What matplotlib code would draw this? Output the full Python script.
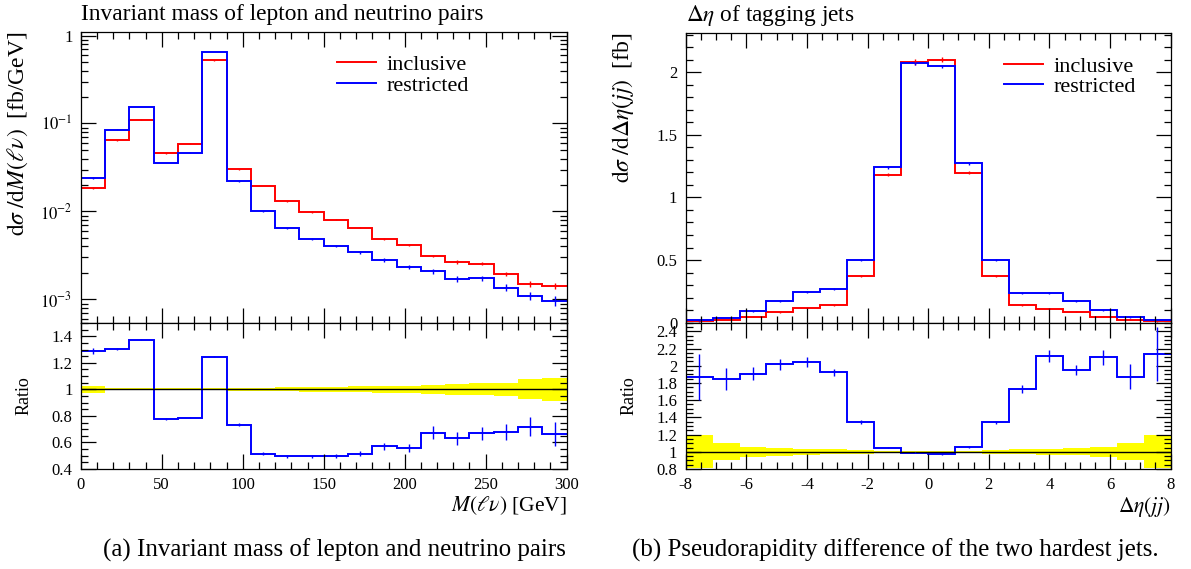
import matplotlib
matplotlib.use("Agg")
import matplotlib.pyplot as plt
from matplotlib.ticker import MultipleLocator, LogLocator, FuncFormatter, NullFormatter
import numpy as np

plt.rcParams['font.family'] = ['Liberation Serif', 'DejaVu Serif']
plt.rcParams['mathtext.fontset'] = 'stix'

# ---- left: invariant mass of lepton + neutrino, 20 bins of 15 GeV
mass_edges = np.linspace(0, 300, 21)
mass_incl = [0.0183, 0.0644, 0.111, 0.0457, 0.059, 0.522, 0.0303, 0.0195, 0.0130, 0.00982,
             0.0081, 0.00656, 0.00491, 0.00419, 0.00311, 0.00267, 0.00256, 0.00197, 0.00150, 0.00142]
mass_restr = [0.0239, 0.0853, 0.153, 0.0355, 0.0466, 0.650, 0.0221, 0.0100, 0.00644, 0.00482,
              0.00408, 0.00342, 0.00280, 0.00235, 0.00209, 0.00170, 0.00174, 0.00136, 0.00110, 0.00097]
mass_ratio = [1.29, 1.305, 1.375, 0.775, 0.788, 1.245, 0.735, 0.515, 0.495, 0.495,
              0.50, 0.515, 0.57, 0.562, 0.675, 0.63, 0.67, 0.68, 0.72, 0.665]
mass_ratio_err = [0.025, 0.01, 0.005, 0.006, 0.006, 0.004, 0.008, 0.01, 0.01, 0.012,
                  0.015, 0.018, 0.025, 0.03, 0.05, 0.05, 0.05, 0.06, 0.07, 0.09]
mass_band = [0.025, 0.008, 0.008, 0.008, 0.008, 0.008, 0.01, 0.012, 0.015, 0.018,
             0.02, 0.022, 0.025, 0.027, 0.035, 0.04, 0.045, 0.05, 0.075, 0.085]

# ---- right: delta eta of tagging jets, 18 bins from -8 to 8
deta_edges = np.linspace(-8, 8, 19)
deta_incl = [0.011, 0.021, 0.048, 0.085, 0.12, 0.141, 0.372, 1.18, 2.08,
             2.10, 1.197, 0.372, 0.141, 0.112, 0.088, 0.048, 0.024, 0.011]
deta_restr = [0.020, 0.037, 0.093, 0.173, 0.243, 0.268, 0.504, 1.242, 2.069,
              2.045, 1.271, 0.504, 0.238, 0.234, 0.173, 0.101, 0.043, 0.024]
deta_ratio = [1.867, 1.844, 1.91, 2.017, 2.04, 1.925, 1.347, 1.05, 0.99,
              0.97, 1.058, 1.343, 1.728, 2.11, 1.948, 2.098, 1.875, 2.137]
deta_ratio_err = [0.27, 0.13, 0.08, 0.065, 0.06, 0.04, 0.02, 0.01, 0.005,
                  0.005, 0.01, 0.02, 0.05, 0.07, 0.06, 0.09, 0.14, 0.31]
deta_band = [0.19, 0.1, 0.06, 0.045, 0.035, 0.03, 0.02, 0.01, 0.01,
             0.01, 0.01, 0.02, 0.03, 0.035, 0.04, 0.06, 0.1, 0.19]

RED = '#ff0000'
BLUE = '#0000ff'
LW = 1.4


def style_ticks(ax):
    ax.tick_params(which='both', direction='in', top=True, right=True, labelsize=12, pad=6)
    ax.tick_params(which='major', length=10.5, width=0.9)
    ax.tick_params(which='minor', length=5, width=0.9)
    for s in ax.spines.values():
        s.set_linewidth(0.9)


def draw_panel(fig, x0, w, ytop, ymid, ybot, edges, incl, restr, ratio, ratio_err, band):
    axm = fig.add_axes([x0, ymid, w, ytop - ymid])
    axr = fig.add_axes([x0, ybot, w, ymid - ybot], sharex=axm)
    edges = np.asarray(edges)
    centers = 0.5 * (edges[1:] + edges[:-1])
    incl = np.asarray(incl)
    restr = np.asarray(restr)
    ratio = np.asarray(ratio)
    ratio_err = np.asarray(ratio_err)
    band = np.asarray(band)

    axm.stairs(incl, edges, color=RED, lw=LW, baseline=None, label='inclusive')
    axm.stairs(restr, edges, color=BLUE, lw=LW, baseline=None, label='restricted')
    axm.errorbar(centers, incl, yerr=incl * band, fmt='none', ecolor=RED, elinewidth=1)
    axm.errorbar(centers, restr, yerr=restr * ratio_err / ratio, fmt='none', ecolor=BLUE, elinewidth=1)

    axr.stairs(1 + band, edges, baseline=1 - band, fill=True, color='#ffff00', lw=0)
    axr.axhline(1.0, color='black', lw=1.0)
    axr.stairs(ratio, edges, color=BLUE, lw=LW, baseline=None)
    axr.errorbar(centers, ratio, yerr=ratio_err, fmt='none', ecolor=BLUE, elinewidth=1)

    axm.set_xlim(edges[0], edges[-1])
    plt.setp(axm.get_xticklabels(), visible=False)
    style_ticks(axm)
    style_ticks(axr)
    axm.legend(loc='upper right', frameon=False, fontsize=16, handlelength=1.75,
               handletextpad=0.45, labelspacing=0.0, borderaxespad=0.3)
    return axm, axr


fig = plt.figure(figsize=(11.91, 5.69), dpi=100)

# left panel
axm, axr = draw_panel(fig, 0.0678, 0.408, 0.944, 0.4323, 0.1757,
                      mass_edges, mass_incl, mass_restr, mass_ratio, mass_ratio_err, mass_band)
axm.set_yscale('log')
axm.set_ylim(5.4e-4, 1.1)
axm.yaxis.set_major_locator(LogLocator(base=10, numticks=10))
axm.yaxis.set_minor_locator(LogLocator(base=10, subs=np.arange(2, 10), numticks=20))
axm.yaxis.set_minor_formatter(NullFormatter())
axm.yaxis.set_major_formatter(FuncFormatter(
    lambda v, p: '1' if abs(v - 1) < 1e-9 else r'$10^{%d}$' % int(round(np.log10(v)))))
axm.xaxis.set_major_locator(MultipleLocator(50))
axm.xaxis.set_minor_locator(MultipleLocator(10))
axm.legend_.set_bbox_to_anchor((0.83, 0.975))
axr.set_ylim(0.4, 1.5)
axr.yaxis.set_major_locator(MultipleLocator(0.2))
axr.yaxis.set_minor_locator(MultipleLocator(0.05))
axr.yaxis.set_major_formatter(FuncFormatter(lambda v, p: '%g' % round(v, 2)))
axm.set_ylabel(r'$\mathrm{d}\sigma\;/\mathrm{d}M(\ell\nu)\;$ [fb/GeV]', fontsize=17, loc='top')
axm.yaxis.set_label_coords(-0.104, 1.0)
axr.set_ylabel('Ratio', fontsize=13)
axr.yaxis.set_label_coords(-0.1, 0.5)
axr.set_xlabel(r'$M(\ell\nu)$ [GeV]', fontsize=15.5, loc='right', labelpad=1)
axm.set_title('Invariant mass of lepton and neutrino pairs', fontsize=16.8, loc='left', pad=8.5)

# right panel
bxm, bxr = draw_panel(fig, 0.5757, 0.4072, 0.9415, 0.4328, 0.1757,
                      deta_edges, deta_incl, deta_restr, deta_ratio, deta_ratio_err, deta_band)
bxm.set_ylim(0, 2.31)
bxm.yaxis.set_major_locator(MultipleLocator(0.5))
bxm.yaxis.set_minor_locator(MultipleLocator(0.1))
bxm.yaxis.set_major_formatter(FuncFormatter(lambda v, p: '%g' % v))
bxm.xaxis.set_major_locator(MultipleLocator(2))
bxm.xaxis.set_minor_locator(MultipleLocator(0.5))
bxm.legend_.set_bbox_to_anchor((0.96, 0.975))
bxr.set_ylim(0.8, 2.5)
bxr.yaxis.set_major_locator(MultipleLocator(0.2))
bxr.yaxis.set_minor_locator(MultipleLocator(0.05))
bxr.yaxis.set_major_formatter(FuncFormatter(lambda v, p: '%g' % round(v, 2)))
bxr.xaxis.set_major_formatter(FuncFormatter(lambda v, p: '%d' % v))
bxm.set_ylabel(r'$\mathrm{d}\sigma\;/\mathrm{d}\Delta\eta(jj)\;$ [fb]', fontsize=17, loc='top')
bxm.yaxis.set_label_coords(-0.103, 1.0)
bxr.set_ylabel('Ratio', fontsize=13)
bxr.yaxis.set_label_coords(-0.1, 0.5)
bxr.set_xlabel(r'$\Delta\eta(jj)$', fontsize=15.5, loc='right', labelpad=1)
bxm.set_title(r'$\Delta\eta$ of tagging jets', fontsize=16.8, loc='left', pad=8.5)

# captions
fig.text(0.281, 0.033, '(a) Invariant mass of lepton and neutrino pairs', fontsize=18,
         ha='center', va='center')
fig.text(0.752, 0.033, '(b) Pseudorapidity difference of the two hardest jets.', fontsize=18,
         ha='center', va='center')

fig.savefig('out.png', dpi=100)
